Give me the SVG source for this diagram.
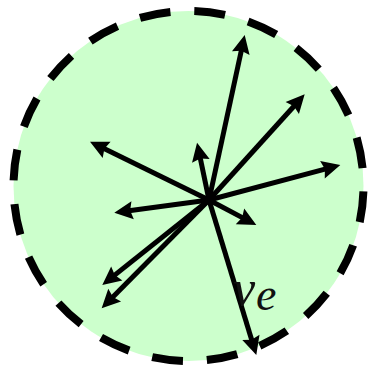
<svg xmlns="http://www.w3.org/2000/svg" width="368" height="370" viewBox="0 0 368 370">
  <style>
    .region { fill: #ccffcc; stroke: #000; stroke-width: 8; stroke-dasharray: 31 23.98; stroke-dashoffset: 49.5; }
    .vec { stroke: #000; stroke-width: 5; fill: none; marker-end: url(#head); }
    .lbl { font-family: "Liberation Serif", "DejaVu Serif", serif; font-style: italic; fill: #111; }
  </style>
  <defs>
    <marker id="head" markerUnits="userSpaceOnUse" markerWidth="40" markerHeight="40" refX="0" refY="0" orient="auto" overflow="visible" viewBox="-20 -20 40 40">
      <path d="M11,0 L-7.5,-9 L-5,0 L-7.5,9 Z" fill="#000"/>
    </marker>
  </defs>
  <g id="region">
    <circle class="region" cx="188.5" cy="186" r="175"/>
  </g>
  <g id="connectors">
    <line class="vec" x1="209" y1="200" x2="242.37" y2="45.75"/>
    <line class="vec" x1="209" y1="200" x2="297.3" y2="102.5"/>
    <line class="vec" x1="209" y1="200" x2="329.7" y2="167.8"/>
    <line class="vec" x1="209" y1="200" x2="99.9" y2="146.5"/>
    <line class="vec" x1="209" y1="200" x2="199.3" y2="153.5"/>
    <line class="vec" x1="209" y1="200" x2="125.2" y2="211.2"/>
    <line class="vec" x1="209" y1="200" x2="246.6" y2="219.9"/>
    <line class="vec" x1="209" y1="200" x2="110.9" y2="278.1"/>
    <line class="vec" x1="209" y1="200" x2="109.4" y2="300.5"/>
    <line class="vec" x1="209" y1="200" x2="253.1" y2="344.5"/>
  </g>
  <g id="label">
    <text class="lbl" x="233" y="305" font-size="50">v</text>
    <text class="lbl" x="256" y="310" font-size="46">e</text>
  </g>
</svg>
